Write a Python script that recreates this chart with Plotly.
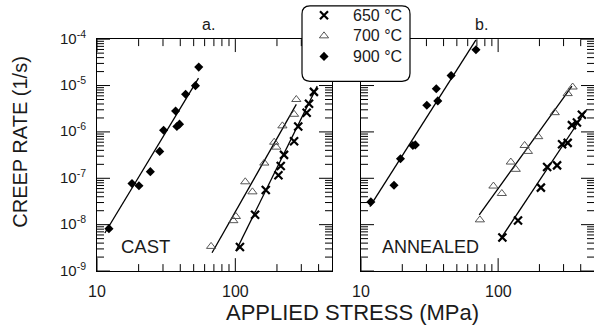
import math
import plotly.graph_objects as go

# ---------------- data ----------------
# Left panel: CAST
cast_650_x = [108, 139, 166, 205, 213, 225, 266, 285, 328, 341, 370]
cast_650_y = [3.3e-9, 1.63e-8, 5.6e-8, 1.16e-7, 1.84e-7, 3.2e-7, 6.3e-7, 1.31e-6, 2.6e-6, 4.05e-6, 7.3e-6]
cast_700_x = [66.8, 96.8, 101, 118, 133, 162, 191, 198, 219, 266, 276]
cast_700_y = [3.4e-9, 1.22e-8, 1.5e-8, 8.4e-8, 5.1e-8, 2.13e-7, 6.0e-7, 4.7e-7, 1.35e-6, 2.4e-6, 5.0e-6]
cast_900_x = [12.2, 17.9, 20.1, 24.3, 28.4, 30.3, 37.0, 37.8, 39.5, 43.7, 51.5, 54.4]
cast_900_y = [8.2e-9, 7.7e-8, 6.9e-8, 1.39e-7, 3.8e-7, 1.09e-6, 2.83e-6, 1.31e-6, 1.47e-6, 6.5e-6, 9.95e-6, 2.5e-5]
cast_650_fit_x = [101, 391]
cast_650_fit_y = [2.7e-9, 9.7e-6]
cast_700_fit_x = [67.9, 276]
cast_700_fit_y = [2.48e-9, 3.92e-6]
cast_900_fit_x = [11.4, 54.2]
cast_900_fit_y = [6.6e-9, 1.45e-5]

# Right panel: ANNEALED
ann_650_x = [107.4, 139.6, 205, 227.7, 269, 292.6, 321.5, 345, 375.4, 408]
ann_650_y = [5.3e-9, 1.23e-8, 6.3e-8, 1.75e-7, 1.9e-7, 5.4e-7, 5.8e-7, 1.4e-6, 1.6e-6, 2.34e-6]
ann_700_x = [73.6, 92.4, 106.4, 123.7, 134.4, 156, 164.9, 195.9, 258.8, 321.5, 349.4]
ann_700_y = [1.27e-8, 6.8e-8, 4.7e-8, 2.24e-7, 1.56e-7, 5.1e-7, 3.8e-7, 7.9e-7, 2.6e-6, 6.7e-6, 9.3e-6]
ann_900_x = [11.8, 17.4, 19.4, 23.9, 24.9, 30.2, 35.4, 36.3, 45.4, 68.9]
ann_900_y = [3.1e-8, 7.1e-8, 2.64e-7, 5.1e-7, 5.25e-7, 3.76e-6, 8.55e-6, 4.67e-6, 1.64e-5, 5.9e-5]
ann_650_fit_x = [101.6, 443.6]
ann_650_fit_y = [4.4e-9, 3.08e-6]
ann_700_fit_x = [72.8, 345]
ann_700_fit_y = [1.63e-8, 9.75e-6]
ann_900_fit_x = [11.6, 68.9]
ann_900_fit_y = [2.45e-8, 9.7e-5]

series_names = ["650 °C", "700 °C", "900 °C"]
x_tickvals = [10, 100]
x_ticktext = ["10", "100"]
x_minor_vals = [20, 30, 40, 50, 60, 70, 80, 90, 200, 300, 400]
y_tickvals = [1e-9, 1e-8, 1e-7, 1e-6, 1e-5, 1e-4]
y_ticktext = ["10<sup>-9</sup>", "10<sup>-8</sup>", "10<sup>-7</sup>",
              "10<sup>-6</sup>", "10<sup>-5</sup>", "10<sup>-4</sup>"]
y_minor_vals = [m * 10.0 ** e for e in range(-9, -4) for m in range(2, 10)]
panel_titles = ["a.", "b."]
panel_labels = ["CAST", "ANNEALED"]
x_title = "APPLIED STRESS (MPa)"
y_title = "CREEP RATE (1/s)"

# ---------------- figure ----------------
W, H = 594, 330
FONT = "Liberation Sans, Arial, sans-serif"
TXT = "#1a1a1a"
X_RANGE = [1, 2.699]
Y_RANGE = [-9, -4]

def px_x(p):
    return p / W

def px_y(p):
    return 1 - p / H

styles = {
    "650 °C": dict(symbol="x-thin-open", size=8, color="black", line=dict(width=2.2, color="black")),
    "700 °C": dict(symbol="triangle-up-open", size=8, color="#444444", line=dict(width=0.9, color="#444444")),
    "900 °C": dict(symbol="diamond", size=7, color="black", line=dict(width=0, color="black")),
}

fig = go.Figure()
panels = [
    ("x", "y", [(cast_650_x, cast_650_y), (cast_700_x, cast_700_y), (cast_900_x, cast_900_y)],
     [(cast_650_fit_x, cast_650_fit_y), (cast_700_fit_x, cast_700_fit_y), (cast_900_fit_x, cast_900_fit_y)]),
    ("x2", "y2", [(ann_650_x, ann_650_y), (ann_700_x, ann_700_y), (ann_900_x, ann_900_y)],
     [(ann_650_fit_x, ann_650_fit_y), (ann_700_fit_x, ann_700_fit_y), (ann_900_fit_x, ann_900_fit_y)]),
]
for pi, (xa, ya, pts, fits) in enumerate(panels):
    for (fx, fy) in fits:
        fig.add_trace(go.Scatter(x=fx, y=fy, mode="lines", xaxis=xa, yaxis=ya,
                                 line=dict(color="black", width=1.3), showlegend=False,
                                 hoverinfo="skip"))
    for name, (sx, sy) in zip(series_names, pts):
        label = f"<span style='font-size:16px'>{name}</span>"
        fig.add_trace(go.Scatter(x=sx, y=sy, mode="markers", xaxis=xa, yaxis=ya,
                                 marker=styles[name], name=label,
                                 showlegend=(pi == 0), cliponaxis=False))

# panel geometry (pixels)
L1, R1 = 97, 332
L2, R2 = 361, 594
TOP, BOT = 36.5, 270.5

axis_common = dict(type="log", showline=True, linecolor="black", linewidth=1, mirror=True,
                   showgrid=False, zeroline=False, showticklabels=False, ticks="")

fig.update_layout(
    width=W, height=H,
    margin=dict(l=0, r=0, t=0, b=0, pad=0),
    paper_bgcolor="white", plot_bgcolor="white",
    font=dict(family=FONT, color=TXT),
    xaxis=dict(axis_common, range=X_RANGE, domain=[px_x(L1), px_x(R1)], anchor="y"),
    yaxis=dict(axis_common, range=Y_RANGE, domain=[px_y(BOT), px_y(TOP)], anchor="x"),
    xaxis2=dict(axis_common, range=X_RANGE, domain=[px_x(L2), px_x(R2)], anchor="y2"),
    yaxis2=dict(axis_common, range=Y_RANGE, domain=[px_y(BOT), px_y(TOP)], anchor="x2"),
    legend=dict(x=px_x(295), y=px_y(-3), xanchor="left", yanchor="top",
                bgcolor="rgba(0,0,0,0)", borderwidth=0,
                font=dict(family=FONT, size=13.5, color=TXT), itemwidth=48),
    showlegend=True,
)

# inward tick marks on all four sides of both panels (from the tick arrays)
MAJ, MIN = 13, 7
tick_line = dict(color="black", width=1)
for (L, R) in [(L1, R1), (L2, R2)]:
    for vals, ln in [(x_tickvals, MAJ), (x_minor_vals, MIN)]:
        for tv in vals:
            f = (math.log10(tv) - X_RANGE[0]) / (X_RANGE[1] - X_RANGE[0])
            xp = L + f * (R - L)
            for y0, y1 in [(BOT, BOT - ln), (TOP, TOP + ln)]:
                fig.add_shape(type="line", xref="paper", yref="paper",
                              x0=px_x(xp), x1=px_x(xp), y0=px_y(y0), y1=px_y(y1),
                              line=tick_line, layer="above")
    for vals, ln in [(y_tickvals, MAJ), (y_minor_vals, MIN)]:
        for tv in vals:
            g = (math.log10(tv) - Y_RANGE[0]) / (Y_RANGE[1] - Y_RANGE[0])
            yp = BOT - g * (BOT - TOP)
            for x0, x1 in [(L, L + ln), (R, R - ln)]:
                fig.add_shape(type="line", xref="paper", yref="paper",
                              x0=px_x(x0), x1=px_x(x1), y0=px_y(yp), y1=px_y(yp),
                              line=tick_line, layer="above")

# rounded legend frame (drawn over the axes)
bx0, bx1, by0, by1, rr = 302, 410, 3, 79, 8
path = (f"M {px_x(bx0 + rr)} {px_y(by0)} L {px_x(bx1 - rr)} {px_y(by0)} "
        f"Q {px_x(bx1)} {px_y(by0)} {px_x(bx1)} {px_y(by0 + rr)} "
        f"L {px_x(bx1)} {px_y(by1 - rr)} Q {px_x(bx1)} {px_y(by1)} {px_x(bx1 - rr)} {px_y(by1)} "
        f"L {px_x(bx0 + rr)} {px_y(by1)} Q {px_x(bx0)} {px_y(by1)} {px_x(bx0)} {px_y(by1 - rr)} "
        f"L {px_x(bx0)} {px_y(by0 + rr)} Q {px_x(bx0)} {px_y(by0)} {px_x(bx0 + rr)} {px_y(by0)} Z")
fig.add_shape(type="path", path=path, xref="paper", yref="paper",
              fillcolor="white", line=dict(color="black", width=1.2), layer="above")

# tick labels (from the tick arrays, placed on the axes' own scales)
for xa, ya in [("x", "y"), ("x2", "y2")]:
    for tv, tt in zip(x_tickvals, x_ticktext):
        fig.add_annotation(text=tt, x=math.log10(tv), xref=xa, y=0, yref=f"{ya} domain",
                           xanchor="center", yanchor="top", yshift=-10, showarrow=False,
                           font=dict(family=FONT, size=16, color=TXT))
for tv, tt in zip(y_tickvals, y_ticktext):
    fig.add_annotation(text=tt, x=0, xref="x domain", y=math.log10(tv), yref="y",
                       xanchor="right", yanchor="middle", xshift=-9, yshift=2, showarrow=False,
                       font=dict(family=FONT, size=15, color=TXT))

# titles and panel labels
ann = [
    dict(text=panel_titles[0], x=px_x(208), y=px_y(22), size=16),
    dict(text=panel_titles[1], x=px_x(481), y=px_y(22), size=16),
    dict(text=panel_labels[0], x=px_x(145.5), y=px_y(246), size=18.5),
    dict(text=panel_labels[1], x=px_x(430.5), y=px_y(246.5), size=18),
    dict(text=x_title, x=px_x(352), y=px_y(312.5), size=22),
]
for a in ann:
    fig.add_annotation(text=a["text"], x=a["x"], y=a["y"], xref="paper", yref="paper",
                       showarrow=False, xanchor="center", yanchor="middle",
                       font=dict(family=FONT, size=a["size"], color=TXT))
fig.add_annotation(text=y_title, x=px_x(20), y=px_y(140), xref="paper", yref="paper",
                   showarrow=False, textangle=-90, xanchor="center", yanchor="middle",
                   font=dict(family=FONT, size=20, color=TXT))

fig.write_html("out.html", config={"displayModeBar": False},
               post_script="document.body.style.margin='0';document.body.style.padding='0';"
                           "document.body.style.overflow='hidden';")
